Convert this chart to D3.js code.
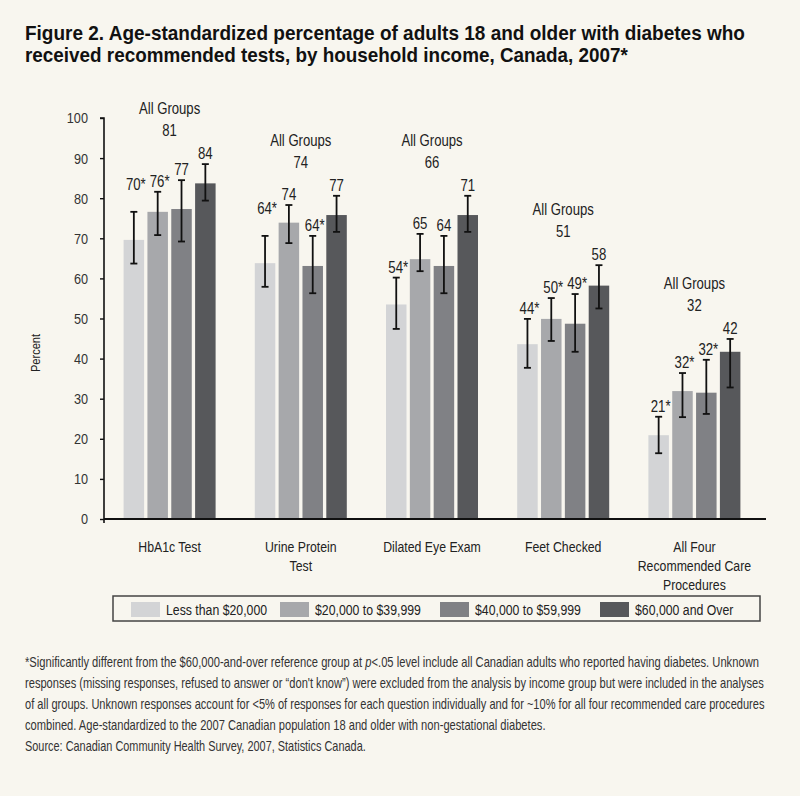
<!DOCTYPE html>
<meta charset="utf-8">
<script src="https://d3js.org/d3.v7.min.js"></script>
<style>
  body { margin: 0; background: #f8f6ef; }
  svg text { font-family: "Liberation Sans", Arial, sans-serif; fill: #222; }
</style>
<div id="chart"></div>
<script>

// categories and income groups
const categories = ["HbA1c Test", "Urine Protein Test", "Dilated Eye Exam", "Feet Checked", "All Four Recommended Care Procedures"];
const categoryLines = [["HbA1c Test"], ["Urine Protein", "Test"], ["Dilated Eye Exam"], ["Feet Checked"], ["All Four", "Recommended Care", "Procedures"]];
const incomeGroups = ["Less than $20,000", "$20,000 to $39,999", "$40,000 to $59,999", "$60,000 and Over"];

// bar heights as drawn (percent), one array per income group
const lessThan20k = [69.6, 63.8, 53.5, 43.6, 20.9];
const from20to40k = [76.6, 73.9, 64.8, 49.9, 31.9];
const from40to60k = [77.3, 63.1, 63.1, 48.7, 31.5];
const over60k     = [83.7, 75.8, 75.8, 58.2, 41.7];

// 95% CI bounds, per category, per income group
const lowCI  = [[63.7, 70.8, 69.2, 79.4], [57.9, 68.8, 56.3, 71.6], [47.4, 61.8, 56.3, 71.6], [37.7, 44.4, 41.7, 52.5], [16.4, 25.4, 26.2, 32.8]];
const highCI = [[76.6, 81.6, 84.5, 88.5], [70.6, 78.3, 70.6, 80.6], [60.2, 71.1, 70.6, 80.6], [49.9, 55.1, 56.1, 63.3], [25.5, 36.4, 39.7, 44.9]];

// printed labels
const valueLabels = [["70*", "76*", "77", "84"], ["64*", "74", "64*", "77"], ["54*", "65", "64", "71"], ["44*", "50*", "49*", "58"], ["21*", "32*", "32*", "42"]];
const allGroups = [81, 74, 66, 51, 32];
const yTicks = [0, 10, 20, 30, 40, 50, 60, 70, 80, 90, 100];

const colors = ["#d3d4d6", "#a7a8ab", "#808185", "#57585b"];
const series = [lessThan20k, from20to40k, from40to60k, over60k];

const W = 800, H = 796;
const K = 0.82; // horizontal squeeze to get a condensed look

const svg = d3.select("#chart").append("svg").attr("width", W).attr("height", H);
svg.append("rect").attr("width", W).attr("height", H).attr("fill", "#f8f6ef");

// move x/y into a transform and squeeze horizontally
function squeeze(sel, k) {
  sel.each(function() {
    const t = d3.select(this);
    const x = +t.attr("x") || 0, y = +t.attr("y") || 0;
    t.attr("x", 0).attr("y", 0).attr("transform", `translate(${x},${y}) scale(${k},1)`);
  });
}
// squeeze so the text fills a given width
function fitWidth(sel, w) {
  sel.each(function() {
    const len = this.getComputedTextLength();
    squeeze(d3.select(this), w / len);
  });
}

// title
const titleLines = [["Figure 2. Age-standardized percentage of adults 18 and older with diabetes who", 720],
                    ["received recommended tests, by household income, Canada, 2007*", 603]];
titleLines.forEach((l, i) => {
  svg.append("text").attr("x", 25).attr("y", 40 + i * 22)
    .style("font-weight", "bold").style("font-size", "20px").style("fill", "#111")
    .text(l[0]).call(fitWidth, l[1]);
});

// scales
const y = d3.scaleLinear().domain([0, 100]).range([519, 118]);
const x0 = d3.scaleBand().domain(categories).range([104, 760]);
const x1 = d3.scaleBand().domain(incomeGroups)
  .range([x0.bandwidth() / 2 - 46, x0.bandwidth() / 2 + 46]).paddingInner(0.14);

// y axis
const yAxis = svg.append("g").attr("transform", "translate(104,0)")
  .call(d3.axisLeft(y).tickValues(yTicks).tickSize(4).tickPadding(12).tickFormat(d3.format("d")));
yAxis.select(".domain").attr("stroke", "#111").attr("stroke-width", 1.6).attr("d", "M-4,118H0V523");
yAxis.selectAll(".tick line").attr("stroke", "#111").attr("stroke-width", 1.4);
yAxis.selectAll(".tick text").style("font-size", "15.5px").style("fill", "#333")
  .style("font-family", '"Liberation Sans", Arial, sans-serif')
  .call(squeeze, K);

svg.append("text").attr("x", 0).attr("y", 0)
  .attr("transform", "translate(40,353) rotate(-90) scale(0.85,1)")
  .attr("text-anchor", "middle").style("font-size", "13px").text("Percent");

// bars
const groups = svg.selectAll("g.cat").data(categories).join("g")
  .attr("class", "cat")
  .attr("transform", d => `translate(${x0(d)},0)`);

groups.each(function(cat, ci) {
  const g = d3.select(this);
  const rows = incomeGroups.map((grp, si) => ({grp, si, v: series[si][ci], lo: lowCI[ci][si], hi: highCI[ci][si], lab: valueLabels[ci][si]}));

  g.selectAll("rect").data(rows).join("rect")
    .attr("x", d => x1(d.grp))
    .attr("width", x1.bandwidth())
    .attr("y", d => y(d.v))
    .attr("height", d => y(0) - y(d.v))
    .attr("fill", d => colors[d.si]);

  const eb = g.selectAll("g.err").data(rows).join("g").attr("class", "err")
    .attr("transform", d => `translate(${x1(d.grp) + x1.bandwidth() / 2},0)`);
  eb.append("line").attr("y1", d => y(d.lo)).attr("y2", d => y(d.hi));
  eb.append("line").attr("x1", -3.5).attr("x2", 3.5).attr("y1", d => y(d.hi)).attr("y2", d => y(d.hi));
  eb.append("line").attr("x1", -3.5).attr("x2", 3.5).attr("y1", d => y(d.lo)).attr("y2", d => y(d.lo));
  eb.selectAll("line").attr("stroke", "#111").attr("stroke-width", 1.8);

  // first bar label in the first two groups sits higher in the original
  const lift = (ci < 2) ? 17 : 0;
  g.selectAll("text.val").data(rows).join("text").attr("class", "val")
    .attr("x", d => x1(d.grp) + x1.bandwidth() / 2 + (d.lab.endsWith("*") ? 2 : 0))
    .attr("y", d => y(d.hi) - 5 - (d.si === 0 ? lift : 0))
    .attr("text-anchor", "middle")
    .style("font-size", "16.5px")
    .text(d => d.lab)
    .call(squeeze, 0.8);

  const top = y(d3.max(highCI[ci]));
  g.append("text").attr("x", x0.bandwidth() / 2).attr("y", top - 28)
    .attr("text-anchor", "middle").style("font-size", "16px").text(allGroups[ci]).call(squeeze, K);
  g.append("text").attr("x", x0.bandwidth() / 2).attr("y", top - 50)
    .attr("text-anchor", "middle").style("font-size", "16px").text("All Groups").call(squeeze, K);

  g.selectAll("text.cat").data(categoryLines[ci]).join("text").attr("class", "cat")
    .attr("x", x0.bandwidth() / 2)
    .attr("y", (d, i) => 552 + i * 19)
    .attr("text-anchor", "middle")
    .style("font-size", "15px")
    .text(d => d)
    .call(squeeze, K);
});

// x axis line
svg.append("line").attr("x1", 104).attr("x2", 766).attr("y1", 519).attr("y2", 519)
  .attr("stroke", "#111").attr("stroke-width", 2);

// legend
const legend = svg.append("g");
legend.append("rect").attr("x", 113).attr("y", 596).attr("width", 647).attr("height", 25)
  .attr("fill", "none").attr("stroke", "#444").attr("stroke-width", 1.5);
const legendX = [131, 280, 440, 600];
incomeGroups.forEach((grp, i) => {
  legend.append("rect").attr("x", legendX[i]).attr("y", 602).attr("width", 29).attr("height", 15)
    .attr("fill", colors[i]);
  legend.append("text").attr("x", legendX[i] + 35).attr("y", 615)
    .style("font-size", "15px").text(grp).call(squeeze, K);
});

// footnote
const notes = [
  ["*Significantly different from the $60,000-and-over reference group at ", "p", "<.05 level include all Canadian adults who reported having diabetes. Unknown", 735],
  ["responses (missing responses, refused to answer or \u201cdon't know\u201d) were excluded from the analysis by income group but were included in the analyses", "", "", 740],
  ["of all groups. Unknown responses account for <5% of responses for each question individually and for ~10% for all four recommended care procedures", "", "", 740],
  ["combined. Age-standardized to the 2007 Canadian population 18 and older with non-gestational diabetes.", "", "", 521],
  ["Source: Canadian Community Health Survey, 2007, Statistics Canada.", "", "", 341]
];
notes.forEach((n, i) => {
  const t = svg.append("text").attr("x", 25).attr("y", 667 + i * 21)
    .style("font-size", "14px").style("fill", "#333");
  t.append("tspan").text(n[0]);
  if (n[1]) t.append("tspan").style("font-style", "italic").text(n[1]);
  if (n[2]) t.append("tspan").text(n[2]);
  t.call(fitWidth, n[3]);
});

</script>
